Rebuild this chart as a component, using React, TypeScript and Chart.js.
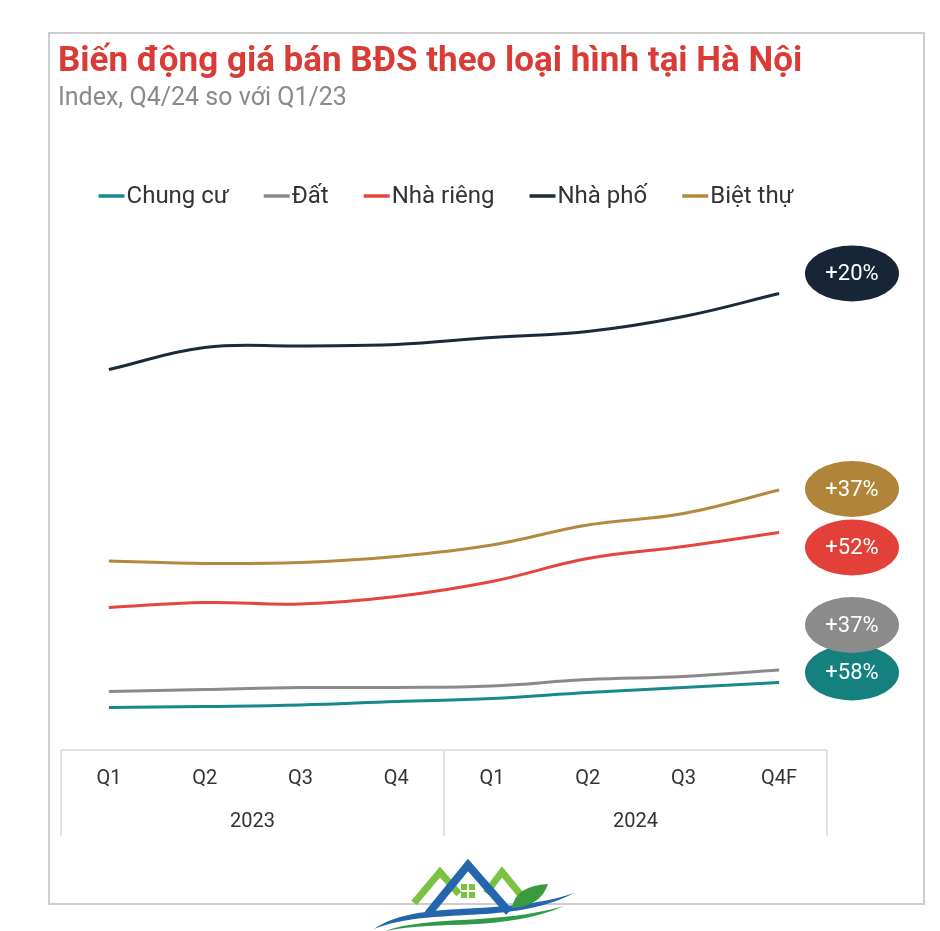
import React, { useEffect, useRef } from 'react';
import { Chart, registerables } from 'chart.js';

Chart.register(...registerables);

const TITLE = 'Biến động giá bán BĐS theo loại hình tại Hà Nội';
const SUBTITLE = 'Index, Q4/24 so với Q1/23';
const QUARTERS = ['Q1', 'Q2', 'Q3', 'Q4', 'Q1', 'Q2', 'Q3', 'Q4F'];
const YEARS = ['2023', '2024'];

const SERIES_NAMES = ['Chung cư', 'Đất', 'Nhà riêng', 'Nhà phố', 'Biệt thự'];
const CHUNG_CU = [8.5, 8.7, 9.0, 9.7, 10.3, 11.5, 12.5, 13.5];
const DAT = [11.7, 12.1, 12.5, 12.5, 12.8, 14.1, 14.7, 16.0];
const NHA_RIENG = [28.5, 29.5, 29.2, 30.7, 33.7, 38.3, 40.7, 43.5];
const NHA_PHO = [76.1, 80.5, 80.8, 81.1, 82.5, 83.7, 86.7, 91.3];
const BIET_THU = [37.8, 37.3, 37.5, 38.7, 41.0, 45.0, 47.3, 52.0];
const CHANGE_LABELS = ['+58%', '+37%', '+52%', '+20%', '+37%'];

const SERIES_VALUES = [CHUNG_CU, DAT, NHA_RIENG, NHA_PHO, BIET_THU];
const COLORS = ['#17898a', '#8a8a8a', '#e5453d', '#1b2a3b', '#b2893f'];
const BADGE_COLORS = ['#14817f', '#8b8b8b', '#e4403a', '#172537', '#b0853a'];
const BADGE_SHIFT = [-10, -45, 15, -20, -1];

function drawLogo(ctx: CanvasRenderingContext2D) {
  ctx.save();
  ctx.lineJoin = 'miter';
  ctx.lineCap = 'butt';
  // green peaks
  ctx.strokeStyle = '#7cc242';
  ctx.lineWidth = 7;
  ctx.beginPath();
  ctx.moveTo(414, 903);
  ctx.lineTo(440, 872);
  ctx.lineTo(459, 894);
  ctx.stroke();
  ctx.beginPath();
  ctx.moveTo(486, 893);
  ctx.lineTo(502, 872);
  ctx.lineTo(525, 900);
  ctx.stroke();
  // blue roof
  ctx.strokeStyle = '#2466ae';
  ctx.lineWidth = 8;
  ctx.beginPath();
  ctx.moveTo(428, 914);
  ctx.lineTo(468, 865);
  ctx.lineTo(509, 912);
  ctx.stroke();
  // window
  ctx.fillStyle = '#7cc242';
  ctx.fillRect(461, 884, 6, 6);
  ctx.fillRect(469, 884, 6, 6);
  ctx.fillRect(461, 892, 6, 6);
  ctx.fillRect(469, 892, 6, 6);
  // swooshes
  ctx.fillStyle = '#2466ae';
  ctx.beginPath();
  ctx.moveTo(374, 929);
  ctx.bezierCurveTo(420, 898, 500, 918, 574, 893);
  ctx.bezierCurveTo(512, 926, 432, 906, 374, 929);
  ctx.fill();
  ctx.fillStyle = '#2f9a48';
  ctx.beginPath();
  ctx.moveTo(385, 931);
  ctx.bezierCurveTo(430, 915, 500, 925, 564, 906);
  ctx.bezierCurveTo(505, 932, 440, 920, 385, 931);
  ctx.fill();
  // leaf
  ctx.fillStyle = '#3c9a3e';
  ctx.beginPath();
  ctx.moveTo(512, 908);
  ctx.quadraticCurveTo(515, 886, 548, 884);
  ctx.quadraticCurveTo(541, 906, 512, 908);
  ctx.fill();
  ctx.restore();
}

const decorPlugin = {
  id: 'decor',
  beforeDraw(chart: any) {
    const ctx: CanvasRenderingContext2D = chart.ctx;
    ctx.save();
    ctx.fillStyle = '#ffffff';
    ctx.fillRect(0, 0, chart.width, chart.height);
    ctx.strokeStyle = '#cdcdcd';
    ctx.lineWidth = 2;
    ctx.strokeRect(49, 33, 875, 871);

    // title / subtitle
    ctx.textAlign = 'left';
    ctx.textBaseline = 'alphabetic';
    ctx.fillStyle = '#d93c37';
    ctx.font = 'bold 35px Roboto';
    ctx.fillText(TITLE, 58, 71);
    ctx.fillStyle = '#8a8a8a';
    ctx.font = '25px Roboto';
    ctx.fillText(SUBTITLE, 58, 105);

    // legend
    ctx.font = '24px Roboto';
    const lineW = 26;
    const gap = 35;
    const widths = SERIES_NAMES.map((n) => ctx.measureText(n).width);
    const total = widths.reduce((s, w) => s + lineW + 2 + w, 0) + gap * (SERIES_NAMES.length - 1);
    let x = 446 - total / 2;
    const ly = 196;
    ctx.textBaseline = 'middle';
    SERIES_NAMES.forEach((n, i) => {
      ctx.strokeStyle = COLORS[i];
      ctx.lineWidth = 3.5;
      ctx.beginPath();
      ctx.moveTo(x, ly);
      ctx.lineTo(x + lineW, ly);
      ctx.stroke();
      ctx.fillStyle = '#333333';
      ctx.fillText(n, x + lineW + 2, ly + 1);
      x += lineW + 2 + widths[i] + gap;
    });

    // axis table
    const xs = chart.scales.x;
    const x2 = chart.scales.x2;
    const top = chart.chartArea.bottom;
    const bottom = x2.bottom;
    const mid = (xs.getPixelForValue(3) + xs.getPixelForValue(4)) / 2;
    ctx.strokeStyle = '#e2e2e2';
    ctx.lineWidth = 2;
    ctx.beginPath();
    ctx.moveTo(xs.left, top);
    ctx.lineTo(xs.right, top);
    [xs.left, mid, xs.right].forEach((px) => {
      ctx.moveTo(px, top);
      ctx.lineTo(px, bottom);
    });
    ctx.stroke();
    ctx.restore();
  },
  afterDraw(chart: any) {
    const ctx: CanvasRenderingContext2D = chart.ctx;
    ctx.save();
    // badges
    ctx.font = '22px Roboto';
    ctx.textAlign = 'center';
    ctx.textBaseline = 'middle';
    chart.data.datasets.forEach((ds: any, i: number) => {
      const meta = chart.getDatasetMeta(i);
      const last = meta.data[meta.data.length - 1];
      const cx = 852;
      const cy = last.y + BADGE_SHIFT[i];
      ctx.fillStyle = BADGE_COLORS[i];
      ctx.beginPath();
      ctx.ellipse(cx, cy, 47, 28, 0, 0, Math.PI * 2);
      ctx.fill();
      ctx.fillStyle = '#ffffff';
      ctx.fillText(CHANGE_LABELS[i], cx, cy + 1);
    });
    drawLogo(ctx);
    ctx.restore();
  },
};

export default function App() {
  const ref = useRef<HTMLCanvasElement>(null);
  useEffect(() => {
    Chart.defaults.font.family = 'Roboto';
    const tickFont = { size: 20 };
    const chart = new Chart(ref.current as HTMLCanvasElement, {
      type: 'line',
      data: {
        labels: QUARTERS,
        datasets: SERIES_NAMES.map((name, i) => ({
          label: name,
          data: SERIES_VALUES[i],
          borderColor: COLORS[i],
          backgroundColor: COLORS[i],
          borderWidth: 3,
          tension: 0.4,
          pointRadius: 0,
          fill: false,
        })),
      },
      options: {
        responsive: false,
        animation: false,
        layout: { padding: { left: 61, right: 113, top: 250, bottom: 95 } },
        plugins: {
          legend: { display: false },
          tooltip: { enabled: false },
        },
        scales: {
          x: {
            type: 'category',
            offset: true,
            weight: 0,
            grid: { display: false, drawTicks: false },
            border: { display: false },
            ticks: { padding: 17, color: '#333333', font: tickFont, maxRotation: 0, autoSkip: false },
          },
          x2: {
            type: 'category',
            labels: YEARS,
            position: 'bottom',
            offset: true,
            weight: 1,
            grid: { display: false, drawTicks: false },
            border: { display: false },
            ticks: { padding: 2, color: '#333333', font: tickFont, maxRotation: 0, autoSkip: false },
          },
          y: { display: false, min: 0, max: 100 },
        },
      } as any,
      plugins: [decorPlugin],
    });
    return () => chart.destroy();
  }, []);
  return (
    <canvas
      ref={ref}
      width={940}
      height={931}
      style={{ position: 'absolute', left: 0, top: 0, display: 'block' }}
    />
  );
}
